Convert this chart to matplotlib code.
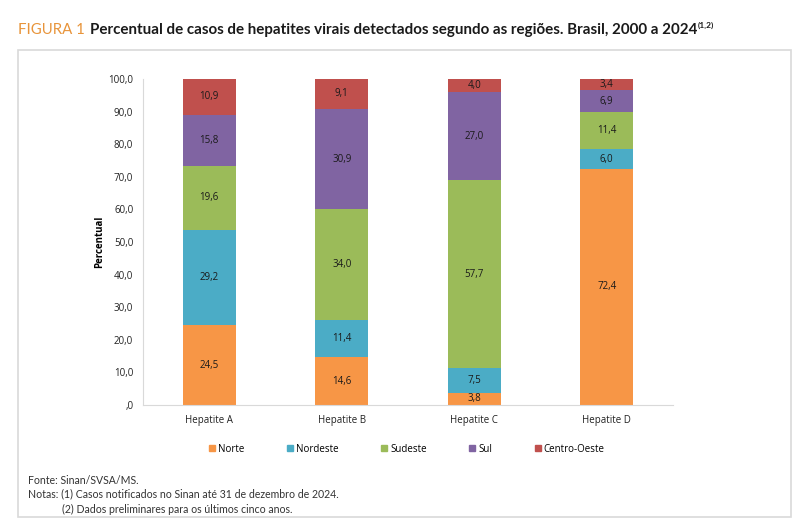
import matplotlib.pyplot as plt
from matplotlib.patches import Rectangle
from matplotlib.lines import Line2D
import numpy as np

categories = ["Hepatite A", "Hepatite B", "Hepatite C", "Hepatite D"]
regions = ["Norte", "Nordeste", "Sudeste", "Sul", "Centro-Oeste"]
norte = [24.5, 14.6, 3.8, 72.4]
nordeste = [29.2, 11.4, 7.5, 6.0]
sudeste = [19.6, 34.0, 57.7, 11.4]
sul = [15.8, 30.9, 27.0, 6.9]
centro_oeste = [10.9, 9.1, 4.0, 3.4]
colors = ["#F79646", "#4BACC6", "#9BBB59", "#8064A2", "#C0504D"]
yticks = [0, 10, 20, 30, 40, 50, 60, 70, 80, 90, 100]
ytick_labels = [",0", "10,0", "20,0", "30,0", "40,0", "50,0", "60,0", "70,0", "80,0", "90,0", "100,0"]

series = [norte, nordeste, sudeste, sul, centro_oeste]

fig = plt.figure(figsize=(8, 5.3), dpi=100)
fig.patch.set_facecolor("white")

# outer frame around chart + notes
fig.add_artist(Rectangle((18 / 800, 1 - 517 / 530), (791 - 18) / 800, (517 - 50) / 530,
                         transform=fig.transFigure, fill=False, edgecolor="#d9d9d9", lw=1.2))

ax = fig.add_axes([143 / 800, 1 - 405 / 530, (673 - 143) / 800, (405 - 79) / 530])
x = np.arange(len(categories))
bottom = np.zeros(len(categories))
for name, vals, c in zip(regions, series, colors):
    vals = np.array(vals)
    ax.bar(x, vals, 0.4, bottom=bottom, color=c, label=name, linewidth=0)
    for xi, b, v in zip(x, bottom, vals):
        ax.text(xi, b + v / 2, f"{v:.1f}".replace(".", ","), ha="center", va="center",
                fontsize=7, color="#1a1a1a", family="Open Sans")
    bottom += vals

ax.set_xlim(-0.5, 3.5)
ax.set_ylim(0, 100)
ax.set_yticks(yticks)
ax.set_yticklabels(ytick_labels, fontsize=7, family="Open Sans", color="#222222")
ax.set_xticks(x)
ax.set_xticklabels(categories, fontsize=7, family="Open Sans", color="#222222")
ax.tick_params(length=0, pad=7)
for s in ["top", "right"]:
    ax.spines[s].set_visible(False)
for s in ["left", "bottom"]:
    ax.spines[s].set_color("#d9d9d9")
ax.set_ylabel("Percentual", fontsize=7, fontweight="bold", family="Open Sans", labelpad=2)

handles = [Line2D([], [], marker="s", ls="", markersize=5, markerfacecolor=c, markeredgecolor=c)
           for c in colors]
fig.legend(handles, regions, loc="center", bbox_to_anchor=(406 / 800, 1 - 449 / 530), ncol=5,
           frameon=False, prop={"family": "Open Sans", "size": 7},
           handletextpad=0.1, columnspacing=4.2, handlelength=1)

# title
fig.text(18 / 800, 1 - 30 / 530, "FIGURA 1", fontsize=10.8, color="#E8943A",
         family="Lato", va="center")
t2 = fig.text(90 / 800, 1 - 30 / 530, "Percentual de casos de hepatites virais detectados segundo as regiões. Brasil, 2000 a 2024",
              fontsize=10.9, color="#1a1a1a", family="Lato", fontweight="bold", va="center")
fig.canvas.draw()
bb = t2.get_window_extent()
fig.text(bb.x1 / 800 + 0.001, 1 - 25 / 530, "(1,2)", fontsize=6, color="#1a1a1a",
         family="Lato", fontweight="bold", va="center")

fig.text(28 / 800, 1 - 480 / 530, "Fonte: Sinan/SVSA/MS.", fontsize=7.6, family="Lato", color="#333333", va="center")
fig.text(28 / 800, 1 - 494 / 530, "Notas: (1) Casos notificados no Sinan até 31 de dezembro de 2024.", fontsize=7.6,
         family="Lato", color="#333333", va="center")
fig.text(62 / 800, 1 - 509 / 530, "(2) Dados preliminares para os últimos cinco anos.", fontsize=7.6,
         family="Lato", color="#333333", va="center")

fig.savefig("out.png", dpi=100)
